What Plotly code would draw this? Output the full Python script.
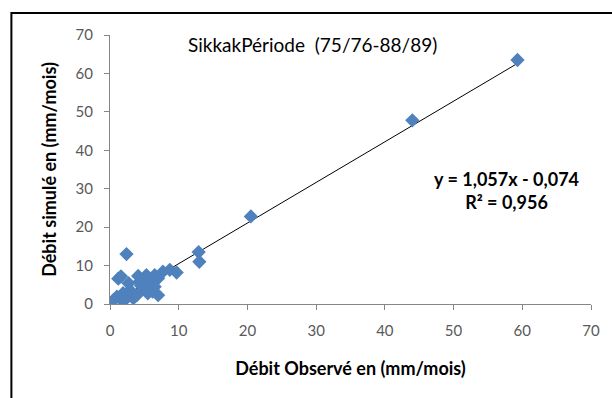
import plotly.graph_objects as go

# Observed vs simulated monthly discharge (mm/mois)
obs = [59.3, 44.0, 20.5, 12.9, 13.0, 2.4, 1.2, 1.6,
       4.1, 5.3, 6.5, 7.7, 8.7, 9.7, 4.3, 5.8, 7.0, 5.1, 6.5, 5.5, 7.0,
       1.0, 1.9, 2.9, 2.7, 3.4, 1.7, 3.9, 2.4, 0.5, 4.5, 6.2]
sim = [63.5, 47.8, 22.8, 13.5, 11.0, 13.0, 6.6, 7.2,
       7.3, 7.5, 7.5, 8.4, 8.9, 8.2, 5.8, 5.8, 6.7, 3.6, 4.5, 2.8, 2.3,
       1.9, 2.8, 3.6, 5.4, 1.5, 1.0, 2.3, 1.5, 1.0, 4.8, 3.2]

slope = 1.057
intercept = -0.074
r2 = 0.956

title_text = "SikkakPériode  (75/76-88/89)"
x_title = "Débit Observé en (mm/mois)"
y_title = "Débit simulé en (mm/mois)"
eq_text = "y = 1,057x - 0,074"
r2_text = "R² = 0,956"
ticks = [0, 10, 20, 30, 40, 50, 60, 70]

xmin, xmax = min(obs), max(obs)
trend_x = [xmin, xmax]
trend_y = [slope * v + intercept for v in trend_x]

font = "Lato, 'Open Sans', sans-serif"

fig = go.Figure()
fig.add_trace(go.Scatter(
    x=trend_x, y=trend_y, mode="lines",
    line=dict(color="#000000", width=1),
    hoverinfo="skip", showlegend=False))
fig.add_trace(go.Scatter(
    x=obs, y=sim, mode="markers",
    marker=dict(symbol="diamond", size=11, color="#4F81BD",
                line=dict(width=0)),
    showlegend=False))

axis_common = dict(
    range=[0, 70], tickvals=ticks, showgrid=False, zeroline=False,
    showline=True, linecolor="#868686", linewidth=1,
    ticks="outside", ticklen=5, tickcolor="#868686",
    tickfont=dict(family=font, size=15, color="#595959"),
)
fig.update_xaxes(**axis_common, ticklabelstandoff=8,
                 title=dict(text="<b>" + x_title + "</b>", standoff=24,
                            font=dict(family=font, size=18, color="#000000")))
fig.update_yaxes(**axis_common, ticklabelstandoff=8,
                 title=dict(text="<b>" + y_title + "</b>", standoff=14,
                            font=dict(family=font, size=18, color="#000000")))

fig.add_annotation(xref="paper", yref="paper", x=0.42, y=0.965,
                   text=title_text, showarrow=False,
                   font=dict(family=font, size=19, color="#000000"),
                   xanchor="center", yanchor="middle")
fig.add_annotation(xref="x", yref="y", x=68.5, y=36,
                   text="<b>" + eq_text + "</b><br><b>" + r2_text + "</b>",
                   showarrow=False, align="center",
                   font=dict(family=font, size=18, color="#000000"),
                   xanchor="right", yanchor="top")

fig.add_shape(type="rect", xref="paper", yref="paper",
              x0=-0.205, x1=1.1, y0=-0.45, y1=1.082,
              line=dict(color="#000000", width=2), fillcolor="rgba(0,0,0,0)",
              layer="below")

fig.update_layout(
    width=612, height=398,
    margin=dict(l=110, r=19, t=35, b=94),
    paper_bgcolor="#FFFFFF", plot_bgcolor="#FFFFFF",
    font=dict(family=font),
)

fig.write_html("out.html")
